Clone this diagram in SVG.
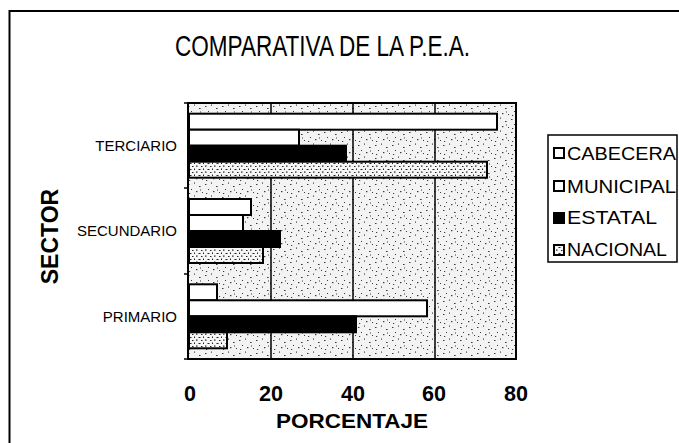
<svg xmlns="http://www.w3.org/2000/svg" width="679" height="443" viewBox="0 0 679 443">
<defs>
<pattern id="stip" width="17" height="13" patternUnits="userSpaceOnUse">
<rect width="17" height="13" fill="#f3f3f3"/>
<g fill="#3a3a3a">
<rect x="1" y="2" width="1.5" height="1"/>
<rect x="7" y="0.5" width="1" height="1.2"/>
<rect x="12" y="4" width="1.6" height="1"/>
<rect x="4" y="7" width="1" height="1"/>
<rect x="9" y="9" width="1.4" height="1.2"/>
<rect x="15" y="10" width="1" height="1"/>
<rect x="2" y="11" width="1.2" height="1"/>
<rect x="13" y="7.5" width="1" height="1"/>
</g>
</pattern>
<pattern id="nac" width="9" height="6" patternUnits="userSpaceOnUse">
<rect width="9" height="6" fill="#f6f6f6"/>
<g fill="#222">
<rect x="0.5" y="1" width="2" height="1"/>
<rect x="5" y="0.5" width="1" height="1.5"/>
<rect x="3" y="4" width="1.5" height="1"/>
<rect x="7" y="3.5" width="1.5" height="1.2"/>
</g>
</pattern>
<style>
.lbl{font-family:"Liberation Sans",Arial,sans-serif;fill:#000}
.bar{stroke:#000;stroke-width:2}
.w{fill:#fff}
.k{fill:#000}
.n{fill:url(#nac)}
.grid{stroke:#000;stroke-width:1.5}
</style>
</defs>
<rect width="679" height="443" fill="#fff"/>
<g id="frame" fill="none" stroke="#000" stroke-width="2">
<path d="M9.5 443 V11 H679"/>
</g>
<g id="title">
<text class="lbl" x="175" y="56" font-size="29" textLength="295" lengthAdjust="spacingAndGlyphs">COMPARATIVA DE LA P.E.A.</text>
</g>
<g id="plot">
<rect x="188" y="103" width="328" height="256" fill="url(#stip)"/>
<g class="grid">
<line x1="271" y1="103" x2="271" y2="359"/>
<line x1="353" y1="103" x2="353" y2="359"/>
<line x1="435" y1="103" x2="435" y2="359"/>
</g>
<rect x="188" y="103" width="328" height="256" fill="none" stroke="#000" stroke-width="2"/>
<g stroke="#000" stroke-width="1.5">
<line x1="184" y1="103" x2="188" y2="103"/>
<line x1="184" y1="188" x2="188" y2="188"/>
<line x1="184" y1="274" x2="188" y2="274"/>
<line x1="184" y1="359" x2="188" y2="359"/>
</g>
</g>
<g id="bars">
<g id="terciario">
<rect class="bar w" x="189" y="113.7" width="308" height="16"/>
<rect class="bar w" x="189" y="129.7" width="110" height="16"/>
<rect class="bar k" x="189" y="145.7" width="157" height="16"/>
<rect class="bar n" x="189" y="161.7" width="298" height="16"/>
</g>
<g id="secundario">
<rect class="bar w" x="189" y="199" width="62" height="16"/>
<rect class="bar w" x="189" y="215" width="54" height="16"/>
<rect class="bar k" x="189" y="231" width="91" height="16"/>
<rect class="bar n" x="189" y="247" width="74" height="16"/>
</g>
<g id="primario">
<rect class="bar w" x="189" y="284.3" width="28" height="16"/>
<rect class="bar w" x="189" y="300.3" width="238" height="16"/>
<rect class="bar k" x="189" y="316.3" width="167" height="16"/>
<rect class="bar n" x="189" y="332.3" width="38" height="16"/>
</g>
</g>
<g id="y-axis" class="lbl" font-size="15" text-anchor="end">
<text x="177" y="151">TERCIARIO</text>
<text x="177" y="236">SECUNDARIO</text>
<text x="177" y="322">PRIMARIO</text>
</g>
<g id="y-title">
<text class="lbl" font-size="23" font-weight="bold" text-anchor="middle" transform="translate(58 236.5) rotate(-90)">SECTOR</text>
</g>
<g id="x-axis" class="lbl" font-size="22" font-weight="bold" text-anchor="middle">
<text x="190" y="401" textLength="12" lengthAdjust="spacingAndGlyphs">0</text>
<text x="271" y="401" textLength="24" lengthAdjust="spacingAndGlyphs">20</text>
<text x="353" y="401" textLength="24" lengthAdjust="spacingAndGlyphs">40</text>
<text x="434" y="401" textLength="24" lengthAdjust="spacingAndGlyphs">60</text>
<text x="516" y="401" textLength="24" lengthAdjust="spacingAndGlyphs">80</text>
</g>
<g id="x-title">
<text class="lbl" x="352" y="428" font-size="21" font-weight="bold" text-anchor="middle" textLength="152" lengthAdjust="spacingAndGlyphs">PORCENTAJE</text>
</g>
<g id="legend">
<rect x="548" y="135" width="129" height="127" fill="#fff" stroke="#000" stroke-width="1.5"/>
<rect class="bar w" x="554" y="148" width="10" height="10"/>
<rect class="bar w" x="554" y="181" width="10" height="10"/>
<rect class="bar k" x="554" y="213" width="10" height="10"/>
<rect class="bar n" x="554" y="245" width="10" height="10"/>
<g class="lbl" font-size="18">
<text x="567" y="160" textLength="109" lengthAdjust="spacingAndGlyphs">CABECERA</text>
<text x="567" y="193" textLength="109" lengthAdjust="spacingAndGlyphs">MUNICIPAL</text>
<text x="567" y="224" textLength="90" lengthAdjust="spacingAndGlyphs">ESTATAL</text>
<text x="567" y="256" textLength="100" lengthAdjust="spacingAndGlyphs">NACIONAL</text>
</g>
</g>
</svg>
